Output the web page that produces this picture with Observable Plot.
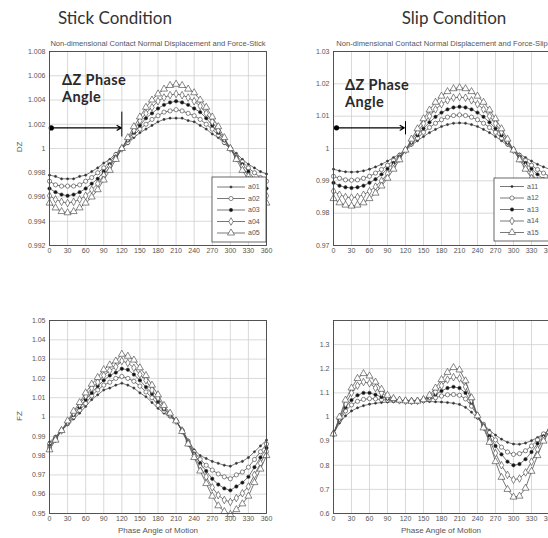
<!DOCTYPE html>
<html><head><meta charset="utf-8">
<script src="https://cdn.jsdelivr.net/npm/d3@7"></script>
<script src="https://cdn.jsdelivr.net/npm/@observablehq/plot@0.6"></script>
<style>
body{margin:0;background:#fff;}
#c{position:relative;width:548px;height:538px;overflow:hidden;font-family:"Liberation Sans",Arial,sans-serif;background:#fff;}
.abs{position:absolute;white-space:nowrap;}
.title{font-family:Lato,"Open Sans",sans-serif;font-size:17px;line-height:20px;color:#333;transform:translateX(-50%);}
.sub{font-size:7.6px;line-height:9px;color:#555;transform:translateX(-50%);}
.ann{font-family:Lato,"Open Sans",sans-serif;font-weight:700;font-size:14.5px;line-height:17.5px;letter-spacing:0.4px;color:#2a2a2a;}
.axl{font-size:8px;line-height:10px;color:#555;}
svg{overflow:visible;}
</style></head><body><div id="c"></div>
<script>
// ---------------- data ----------------
const phase = [0,10,20,30,40,50,60,70,80,90,100,110,120,130,140,150,160,170,180,190,200,210,220,230,240,250,260,270,280,290,300,310,320,330,340,350,360];
const xTicks = [0,30,60,90,120,150,180,210,240,270,300,330,360];

const stickNames = ["a01","a02","a03","a04","a05"];
const slipNames = ["a11","a12","a13","a14","a15"];

// Stick condition, DZ
const stickDZ_a01 = [0.9978,0.9977,0.9975,0.9975,0.9975,0.9977,0.9978,0.9981,0.9984,0.9988,0.9991,0.9996,1.0000,1.0004,1.0009,1.0013,1.0016,1.0019,1.0022,1.0024,1.0025,1.0025,1.0025,1.0023,1.0022,1.0019,1.0016,1.0012,1.0009,1.0004,1.0000,0.9996,0.9991,0.9987,0.9984,0.9981,0.9979];
const stickDZ_a02 = [0.9973,0.9970,0.9969,0.9969,0.9969,0.9970,0.9973,0.9976,0.9980,0.9984,0.9989,0.9995,1.0000,1.0005,1.0011,1.0016,1.0020,1.0024,1.0027,1.0030,1.0031,1.0032,1.0031,1.0029,1.0027,1.0024,1.0020,1.0016,1.0011,1.0005,1.0000,0.9994,0.9989,0.9984,0.9980,0.9976,0.9973];
const stickDZ_a03 = [0.9967,0.9964,0.9962,0.9961,0.9962,0.9964,0.9967,0.9971,0.9975,0.9981,0.9987,0.9993,1.0000,1.0007,1.0013,1.0019,1.0025,1.0029,1.0033,1.0036,1.0038,1.0039,1.0038,1.0036,1.0033,1.0030,1.0025,1.0019,1.0013,1.0007,1.0000,0.9993,0.9987,0.9981,0.9975,0.9970,0.9967];
const stickDZ_a04 = [0.9961,0.9958,0.9956,0.9955,0.9956,0.9958,0.9961,0.9966,0.9971,0.9978,0.9985,0.9992,1.0000,1.0008,1.0015,1.0023,1.0029,1.0034,1.0039,1.0042,1.0044,1.0045,1.0044,1.0042,1.0039,1.0035,1.0029,1.0022,1.0015,1.0008,1.0000,0.9992,0.9985,0.9977,0.9971,0.9966,0.9961];
const stickDZ_a05 = [0.9955,0.9951,0.9948,0.9947,0.9948,0.9951,0.9955,0.9960,0.9966,0.9974,0.9982,0.9991,1.0000,1.0009,1.0018,1.0026,1.0034,1.0040,1.0045,1.0049,1.0052,1.0053,1.0052,1.0049,1.0046,1.0040,1.0034,1.0026,1.0018,1.0009,1.0000,0.9991,0.9982,0.9974,0.9966,0.9960,0.9955];

// Slip condition, DZ
const slipDZ_a11 = [0.9936,0.9931,0.9928,0.9927,0.9928,0.9931,0.9936,0.9943,0.9951,0.9961,0.9972,0.9983,0.9995,1.0010,1.0024,1.0037,1.0049,1.0059,1.0068,1.0074,1.0078,1.0079,1.0078,1.0074,1.0068,1.0059,1.0049,1.0037,1.0024,1.0010,0.9995,0.9983,0.9972,0.9961,0.9951,0.9943,0.9936];
const slipDZ_a12 = [0.9914,0.9908,0.9903,0.9902,0.9903,0.9908,0.9914,0.9924,0.9935,0.9948,0.9963,0.9979,0.9995,1.0014,1.0032,1.0050,1.0065,1.0078,1.0089,1.0097,1.0102,1.0104,1.0102,1.0097,1.0089,1.0078,1.0065,1.0050,1.0032,1.0014,0.9995,0.9979,0.9963,0.9948,0.9935,0.9924,0.9914];
const slipDZ_a13 = [0.9894,0.9885,0.9880,0.9878,0.9880,0.9885,0.9894,0.9905,0.9920,0.9937,0.9955,0.9975,0.9995,1.0018,1.0041,1.0062,1.0081,1.0098,1.0111,1.0121,1.0127,1.0129,1.0127,1.0121,1.0111,1.0098,1.0081,1.0062,1.0041,1.0018,0.9995,0.9975,0.9955,0.9937,0.9920,0.9905,0.9894];
const slipDZ_a14 = [0.9868,0.9857,0.9850,0.9848,0.9850,0.9857,0.9868,0.9882,0.9900,0.9922,0.9945,0.9969,0.9995,1.0024,1.0051,1.0077,1.0100,1.0121,1.0137,1.0149,1.0157,1.0159,1.0157,1.0149,1.0137,1.0121,1.0100,1.0077,1.0051,1.0024,0.9995,0.9969,0.9945,0.9922,0.9900,0.9882,0.9868];
const slipDZ_a15 = [0.9845,0.9832,0.9825,0.9822,0.9825,0.9832,0.9845,0.9862,0.9884,0.9908,0.9936,0.9965,0.9995,1.0029,1.0061,1.0092,1.0119,1.0143,1.0162,1.0176,1.0185,1.0188,1.0185,1.0176,1.0162,1.0143,1.0119,1.0092,1.0061,1.0029,0.9995,0.9965,0.9936,0.9908,0.9884,0.9862,0.9845];

// Stick condition, FZ
const stickFZ_a01 = [0.987,0.990,0.993,0.996,0.999,1.002,1.0055,1.009,1.0115,1.014,1.015,1.0165,1.0175,1.0165,1.015,1.0125,1.0105,1.0075,1.0045,1.002,1.000,0.998,0.9935,0.988,0.983,0.980,0.9785,0.977,0.976,0.975,0.9745,0.976,0.977,0.979,0.982,0.985,0.988];
const stickFZ_a02 = [0.986,0.9895,0.993,0.9965,1.000,1.0035,1.007,1.011,1.014,1.0165,1.018,1.020,1.021,1.020,1.0185,1.016,1.013,1.010,1.006,1.003,1.0005,0.998,0.993,0.9875,0.982,0.978,0.975,0.9725,0.9705,0.969,0.968,0.970,0.9715,0.974,0.978,0.982,0.986];
const stickFZ_a03 = [0.985,0.989,0.993,0.997,1.001,1.005,1.009,1.0125,1.016,1.019,1.0215,1.023,1.025,1.0245,1.022,1.019,1.0155,1.012,1.008,1.004,1.001,0.998,0.993,0.987,0.981,0.976,0.972,0.968,0.965,0.963,0.962,0.964,0.966,0.969,0.974,0.979,0.984];
const stickFZ_a04 = [0.984,0.9885,0.993,0.9975,1.002,1.0065,1.011,1.015,1.018,1.0215,1.024,1.026,1.029,1.028,1.0255,1.022,1.019,1.014,1.010,1.005,1.0015,0.998,0.993,0.9865,0.980,0.974,0.969,0.9635,0.9595,0.957,0.956,0.958,0.9605,0.964,0.970,0.976,0.982];
const stickFZ_a05 = [0.983,0.988,0.993,0.998,1.003,1.0075,1.0125,1.017,1.0205,1.0245,1.027,1.029,1.0325,1.0315,1.0295,1.0255,1.0215,1.0165,1.0115,1.006,1.002,0.998,0.9925,0.986,0.979,0.972,0.9655,0.959,0.954,0.951,0.9495,0.952,0.955,0.959,0.966,0.973,0.980];

// Slip condition, FZ
const slipFZ_a11 = [0.93,0.975,1.005,1.025,1.038,1.047,1.053,1.057,1.06,1.062,1.063,1.064,1.064,1.064,1.064,1.064,1.064,1.063,1.062,1.06,1.057,1.052,1.04,1.02,0.995,0.97,0.945,0.925,0.908,0.895,0.888,0.887,0.892,0.902,0.915,0.93,0.945];
const slipFZ_a12 = [0.93,0.985,1.025,1.05,1.065,1.073,1.076,1.075,1.072,1.07,1.068,1.067,1.066,1.066,1.066,1.068,1.073,1.08,1.087,1.092,1.093,1.09,1.075,1.045,1.005,0.97,0.935,0.905,0.875,0.855,0.845,0.848,0.86,0.88,0.905,0.93,0.945];
const slipFZ_a13 = [0.93,0.99,1.04,1.07,1.09,1.10,1.10,1.092,1.083,1.076,1.071,1.068,1.067,1.066,1.067,1.071,1.08,1.093,1.108,1.12,1.125,1.12,1.10,1.06,1.005,0.965,0.92,0.88,0.845,0.815,0.80,0.805,0.825,0.855,0.89,0.92,0.94];
const slipFZ_a14 = [0.93,0.995,1.055,1.10,1.13,1.145,1.14,1.12,1.10,1.083,1.074,1.069,1.067,1.066,1.067,1.072,1.085,1.105,1.13,1.155,1.165,1.16,1.125,1.07,1.005,0.96,0.905,0.85,0.80,0.76,0.74,0.745,0.77,0.815,0.865,0.91,0.94];
const slipFZ_a15 = [0.93,1.00,1.07,1.12,1.16,1.18,1.17,1.145,1.115,1.09,1.077,1.07,1.067,1.065,1.066,1.072,1.09,1.12,1.155,1.185,1.205,1.195,1.15,1.08,1.005,0.955,0.895,0.815,0.75,0.70,0.668,0.672,0.705,0.775,0.84,0.90,0.94];

// axis ticks
const stickDZTicks = [0.992,0.994,0.996,0.998,1,1.002,1.004,1.006,1.008];
const slipDZTicks = [0.97,0.98,0.99,1,1.01,1.02,1.03];
const stickFZTicks = [0.95,0.96,0.97,0.98,0.99,1,1.01,1.02,1.03,1.04,1.05];
const slipFZTicks = [0.6,0.7,0.8,0.9,1,1.1,1.2,1.3];

// ΔZ phase-angle annotations
const stickArrow = [{x1:3, x2:119, y:1.0017}];
const stickPhaseRule = [{x:120, y1:1.00095, y2:1.0030}];
const slipArrow = [{x1:5, x2:118, y:1.0064}];
const slipPhaseRule = [{x:120, y1:1.0042, y2:1.0083}];

// ---------------- drawing ----------------
const C = document.getElementById("c");
const styles = [
  {symbol:"circle", r:1.1, fill:"#333"},
  {symbol:"circle", r:2.1, fill:"white"},
  {symbol:"circle", r:1.7, fill:"#111"},
  {symbol:"diamond", r:2.3, fill:"white"},
  {symbol:"triangle", r:2.6, fill:"white"}
];
const fmt = d => String(+(+d).toFixed(4));

function place(el, left, top) {
  el.style.position = "absolute"; el.style.left = left + "px"; el.style.top = top + "px";
  C.appendChild(el); return el;
}

function panel({series, names, yDomain, yTicks, left, top, W, H, ML, arrow, rule}) {
  const marks = [
    Plot.gridX(xTicks, {stroke:"#cfcfcf", strokeOpacity:1, strokeWidth:0.8}),
    Plot.gridY(yTicks, {stroke:"#cfcfcf", strokeOpacity:1, strokeWidth:0.8}),
    Plot.axisX(xTicks, {tickSize:0, tickPadding:3, tickFormat: d => d, label:null, fontSize:7, fill:"#555"}),
    Plot.axisY(yTicks, {tickSize:0, tickPadding:4, tickFormat: fmt, label:null, fontSize:7, fill:"#555"})
  ];
  series.forEach((vals, k) => {
    const rows = vals.map((v, i) => ({phase: phase[i], value: v, name: names[k]}));
    marks.push(Plot.line(rows, {x:"phase", y:"value", stroke:"#555", strokeWidth:0.8}));
    marks.push(Plot.dot(rows, {x:"phase", y:"value", symbol: styles[k].symbol, r: styles[k].r,
      fill: styles[k].fill, stroke:"#3a3a3a", strokeWidth:0.6}));
  });
  if (arrow) {
    marks.push(Plot.arrow(arrow, {x1:"x1", x2:"x2", y1:"y", y2:"y", bend:0, headLength:6, stroke:"#000", strokeWidth:1.2}));
    marks.push(Plot.dot(arrow, {x:"x1", y:"y", r:2.6, fill:"#000"}));
    marks.push(Plot.ruleX(rule, {x:"x", y1:"y1", y2:"y2", stroke:"#000", strokeWidth:1}));
  }
  marks.push(Plot.frame({stroke:"#444", strokeWidth:0.9}));
  const p = Plot.plot({
    width: W, height: H, marginLeft: ML, marginRight: 8, marginTop: 11, marginBottom: 20,
    x: {domain:[0,360]},
    y: {domain: yDomain},
    style: {fontFamily:"Liberation Sans, Arial, sans-serif", fontSize:"7px", color:"#555", background:"transparent", overflow:"visible"},
    marks
  });
  place(p, left, top);
}

panel({series:[stickDZ_a01,stickDZ_a02,stickDZ_a03,stickDZ_a04,stickDZ_a05], names:stickNames,
  yDomain:[0.992,1.008], yTicks:stickDZTicks, left:0, top:40, W:274, H:225, ML:49, arrow:stickArrow, rule:stickPhaseRule});
panel({series:[slipDZ_a11,slipDZ_a12,slipDZ_a13,slipDZ_a14,slipDZ_a15], names:slipNames,
  yDomain:[0.97,1.03], yTicks:slipDZTicks, left:293, top:40, W:264, H:225, ML:40, arrow:slipArrow, rule:slipPhaseRule});
panel({series:[stickFZ_a01,stickFZ_a02,stickFZ_a03,stickFZ_a04,stickFZ_a05], names:stickNames,
  yDomain:[0.95,1.05], yTicks:stickFZTicks, left:0, top:309, W:274, H:224, ML:49});
panel({series:[slipFZ_a11,slipFZ_a12,slipFZ_a13,slipFZ_a14,slipFZ_a15], names:slipNames,
  yDomain:[0.6,1.4], yTicks:slipFZTicks, left:293, top:309, W:264, H:224, ML:40});

// texts
function text(cls, str, left, top, rot) {
  const d = document.createElement("div"); d.className = "abs " + cls; d.textContent = str;
  place(d, left, top);
  if (rot) { d.style.transform = "translate(-50%,-50%) rotate(-90deg)"; }
  return d;
}
text("title", "Stick Condition", 115, 8);
text("title", "Slip Condition", 454, 8);
text("sub", "Non-dimensional Contact Normal Displacement and Force-Stick", 158, 38.5);
text("sub", "Non-dimensional Contact Normal Displacement and Force-Slip", 442, 38.5);
text("ann", "ΔZ Phase", 62, 70.6);
text("ann", "Angle", 62, 88.1);
text("ann", "ΔZ Phase", 345, 75.6);
text("ann", "Angle", 345, 93.1);
text("axl", "DZ", 20, 147, true);
text("axl", "FZ", 20, 416, true);
const x1 = text("axl", "Phase Angle of Motion", 158, 526); x1.style.transform = "translateX(-50%)";
const x2 = text("axl", "Phase Angle of Motion", 441, 526); x2.style.transform = "translateX(-50%)";

// legends
const ov = d3.select(C).append("svg").attr("width", 548).attr("height", 538)
  .style("position","absolute").style("left","0px").style("top","0px").style("pointer-events","none");
function legend(names, bx, by, bw, bh, rows, lx1, lx2, tx) {
  const g = ov.append("g");
  g.append("rect").attr("x", bx).attr("y", by).attr("width", bw).attr("height", bh)
    .attr("fill", "white").attr("stroke", "#444").attr("stroke-width", 0.8);
  names.forEach((n, k) => {
    const y = rows[k];
    g.append("line").attr("x1", lx1).attr("x2", lx2).attr("y1", y).attr("y2", y).attr("stroke", "#555").attr("stroke-width", 0.8);
    const st = styles[k];
    const type = st.symbol === "triangle" ? d3.symbolTriangle : st.symbol === "diamond" ? d3.symbolDiamond : d3.symbolCircle;
    g.append("path").attr("d", d3.symbol(type, st.r * st.r * Math.PI)())
      .attr("transform", `translate(${(lx1 + lx2) / 2},${y})`)
      .attr("fill", st.fill).attr("stroke", "#3a3a3a").attr("stroke-width", 0.6);
    g.append("text").attr("x", tx).attr("y", y).attr("dy", "0.35em").text(n)
      .attr("font-size", 7).attr("fill", "#555").attr("font-family", "Liberation Sans, Arial, sans-serif");
  });
}
legend(stickNames, 212, 177, 54, 65, [187,198.5,210,221.5,233], 217, 245, 248);
legend(slipNames, 494, 178, 60, 63, [186.5,198,209.5,221,232.5], 500, 524, 527);
</script></body></html>
